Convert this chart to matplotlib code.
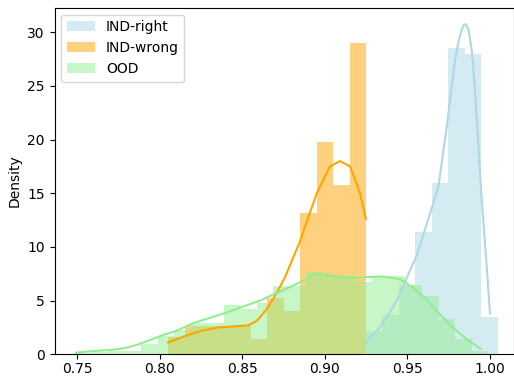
import numpy as np
import matplotlib
matplotlib.use('Agg')
import matplotlib.pyplot as plt

# histogram bins (density)
right_edges = [0.9247, 0.9347, 0.9447, 0.9547, 0.9647, 0.9747, 0.9847, 0.9947, 1.0047]
right_dens = [2.2, 3.7, 6.5, 11.4, 16.0, 28.5, 28.0, 3.5]

wrong_edges = [0.805, 0.815, 0.825, 0.835, 0.845, 0.855, 0.865, 0.875, 0.885, 0.895, 0.905, 0.915, 0.925]
wrong_dens = [1.6, 2.6, 2.6, 2.6, 2.6, 1.4, 5.2, 4.0, 13.2, 19.8, 15.8, 29.0]

ood_edges = [0.7488, 0.7588, 0.7688, 0.7788, 0.7888, 0.7988, 0.8088, 0.8188, 0.8288, 0.8388,
             0.8488, 0.8588, 0.8688, 0.8788, 0.8888, 0.8988, 0.9088, 0.9188, 0.9288, 0.9388,
             0.9488, 0.9588, 0.9688, 0.9788, 0.9888, 0.9988]
ood_dens = [0.1, 0.2, 0.3, 0.3, 1.0, 1.7, 2.3, 2.9, 2.9, 4.6, 4.2, 4.75, 6.4, 6.4, 7.7,
            7.3, 7.3, 6.7, 7.3, 7.3, 6.5, 5.4, 3.3, 1.4, 0.3]

# kde curves
right_kde_x = [0.9247, 0.9333, 0.9394, 0.9455, 0.9515, 0.9556, 0.9636, 0.9687, 0.9738, 0.9788,
               0.9810, 0.9828, 0.9842, 0.9855, 0.9870, 0.9889, 0.9905, 0.9919, 0.9935, 0.9950,
               0.9980, 1.0000]
right_kde_y = [1.15, 2.5, 3.9, 5.6, 7.8, 9.2, 13.1, 15.6, 21.2, 27.4,
               29.2, 30.2, 30.7, 30.75, 30.2, 28.4, 25.5, 22.1, 18.2, 14.4,
               8.2, 3.8]

wrong_kde_x = [0.8050, 0.8152, 0.8253, 0.8353, 0.8455, 0.8535, 0.8586, 0.8647, 0.8707, 0.8758,
               0.8848, 0.8950, 0.9030, 0.9091, 0.9152, 0.9212, 0.9248]
wrong_kde_y = [1.1, 1.7, 2.2, 2.5, 2.6, 2.7, 3.1, 4.2, 5.7, 7.2, 10.5, 15.0, 17.5, 18.0, 17.5,
               15.0, 12.6]

ood_kde_x = [0.7488, 0.7596, 0.7697, 0.7778, 0.7859, 0.7939, 0.8020, 0.8101, 0.8202, 0.8404,
             0.8606, 0.8808, 0.8950, 0.9050, 0.9152, 0.9253, 0.9353, 0.9455, 0.9535, 0.9616,
             0.9697, 0.9778, 0.9859, 0.9944]
ood_kde_y = [0.15, 0.3, 0.4, 0.55, 0.87, 1.33, 1.8, 2.2, 2.9, 3.9, 5.0, 6.4, 7.5, 7.3, 7.1,
             7.2, 7.25, 7.0, 6.2, 5.1, 3.7, 2.45, 1.4, 0.5]

fig = plt.figure(figsize=(5.14, 3.76), dpi=100)
ax = fig.add_axes([54.5/514, 21.7/376, (514-54.5)/514, (354.3-7.6)/376])

def hist(edges, dens, color, label):
    edges = np.array(edges)
    ax.bar(edges[:-1], dens, width=np.diff(edges), align='edge', color=color,
           alpha=0.5, linewidth=0, label=label)

hist(right_edges, right_dens, 'lightblue', 'IND-right')
ax.plot(right_kde_x, right_kde_y, color='lightblue', linewidth=1.5)
hist(wrong_edges, wrong_dens, 'orange', 'IND-wrong')
ax.plot(wrong_kde_x, wrong_kde_y, color='orange', linewidth=1.5)
hist(ood_edges, ood_dens, 'lightgreen', 'OOD')
ax.plot(ood_kde_x, ood_kde_y, color='lightgreen', linewidth=1.5)

ax.set_xlim(0.7361, 1.01455)
ax.set_ylim(0, 32.3)
ax.set_xticks([0.75, 0.80, 0.85, 0.90, 0.95, 1.00])
ax.set_yticks([0, 5, 10, 15, 20, 25, 30])
ax.tick_params(axis='x', pad=2)
ax.set_ylabel('Density')
ax.legend(loc='upper left')

plt.savefig('out.png', dpi=100)
